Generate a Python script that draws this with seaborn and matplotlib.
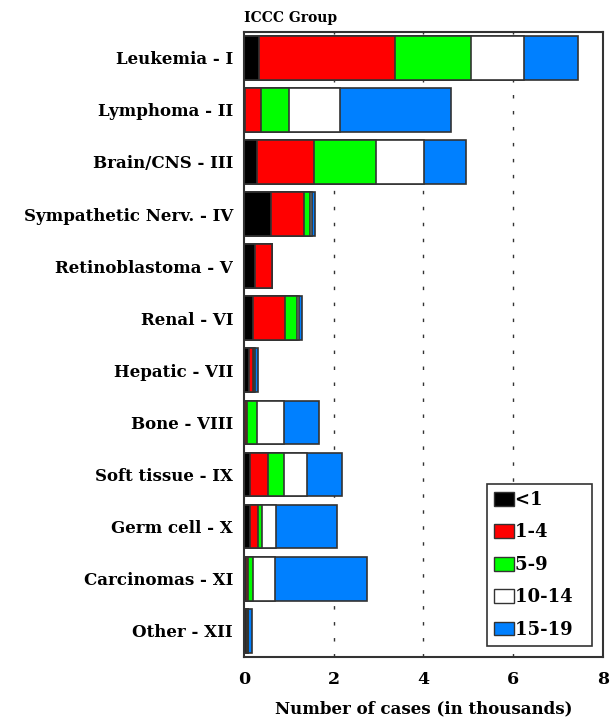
import numpy as np
import pandas as pd
import matplotlib
matplotlib.use("Agg")
import matplotlib.pyplot as plt
from matplotlib.patches import Patch
import seaborn as sns

# =============================
# data (thousands of cases)
# =============================
groups = ["Leukemia - I", "Lymphoma - II", "Brain/CNS - III",
          "Sympathetic Nerv. - IV", "Retinoblastoma - V", "Renal - VI",
          "Hepatic - VII", "Bone - VIII", "Soft tissue - IX",
          "Germ cell - X", "Carcinomas - XI", "Other - XII"]
ages = ["<1", "1-4", "5-9", "10-14", "15-19"]

age_lt1 = [0.33, 0.03, 0.28, 0.59, 0.24, 0.19, 0.10, 0.01, 0.14, 0.14, 0.045, 0.05]
age_1_4 = [3.04, 0.34, 1.27, 0.74, 0.38, 0.73, 0.09, 0.05, 0.40, 0.17, 0.035, 0.02]
age_5_9 = [1.69, 0.64, 1.40, 0.14, 0.005, 0.26, 0.03, 0.22, 0.35, 0.09, 0.12, 0.01]
age_10_14 = [1.18, 1.13, 1.07, 0.05, 0.002, 0.05, 0.03, 0.62, 0.52, 0.30, 0.48, 0.01]
age_15_19 = [1.22, 2.47, 0.94, 0.07, 0.002, 0.07, 0.07, 0.76, 0.78, 1.38, 2.07, 0.09]

colors = ["#000000", "#ff0000", "#00ff00", "#ffffff", "#0080ff"]

plt.rcParams["font.family"] = ["DejaVu Serif"]
plt.rcParams["font.weight"] = "bold"

# =============================
# stacked bars (draw cumulative totals, largest first)
# =============================
df = pd.DataFrame({"group": groups, "<1": age_lt1, "1-4": age_1_4,
                   "5-9": age_5_9, "10-14": age_10_14, "15-19": age_15_19})
cum = df[ages].cumsum(axis=1)

fig = plt.figure(figsize=(6.15, 7.21), dpi=100)
ax = fig.add_axes([0.397, 0.089, 0.583, 0.867])

for c in [2, 4, 6]:
    ax.axvline(c, color="#333333", lw=1, ls=(0, (2.5, 9)), zorder=0)

for age, col in reversed(list(zip(ages, colors))):
    sns.barplot(x=cum[age], y=df["group"], color=col, orient="h",
                width=0.84, edgecolor="#333333", linewidth=1.2,
                saturation=1, ax=ax, zorder=2)

ax.set_xlim(0, 8)
ax.set_ylim(11.5, -0.5)
ax.set_xticks([0, 2, 4, 6, 8])
ax.tick_params(axis="x", length=0, labelsize=12.5, pad=10)
ax.tick_params(axis="y", length=0, labelsize=12, pad=8)
ax.set_ylabel("")
ax.set_xlabel("Number of cases (in thousands)", fontsize=12,
              fontweight="bold", labelpad=9)
for lab in ax.get_xticklabels() + ax.get_yticklabels():
    lab.set_fontweight("bold")
for s in ax.spines.values():
    s.set_color("#333333")
    s.set_linewidth(1.5)
ax.set_title("ICCC Group", loc="left", fontsize=10, fontweight="bold", pad=7)

handles = [Patch(facecolor=c, edgecolor="#333333", label=a + "  ")
           for a, c in zip(ages, colors)]
leg = ax.legend(handles=handles, loc="lower right",
                prop={"weight": "bold", "size": 13},
                fancybox=False, edgecolor="#333333", framealpha=1,
                handlelength=1.1, handleheight=0.8, handletextpad=0.05,
                labelspacing=0.8, borderpad=0.4, borderaxespad=0.6)
leg.get_frame().set_linewidth(1.2)
for t in leg.get_texts():
    t.set_ha("left")

fig.savefig("out.png", dpi=100)
